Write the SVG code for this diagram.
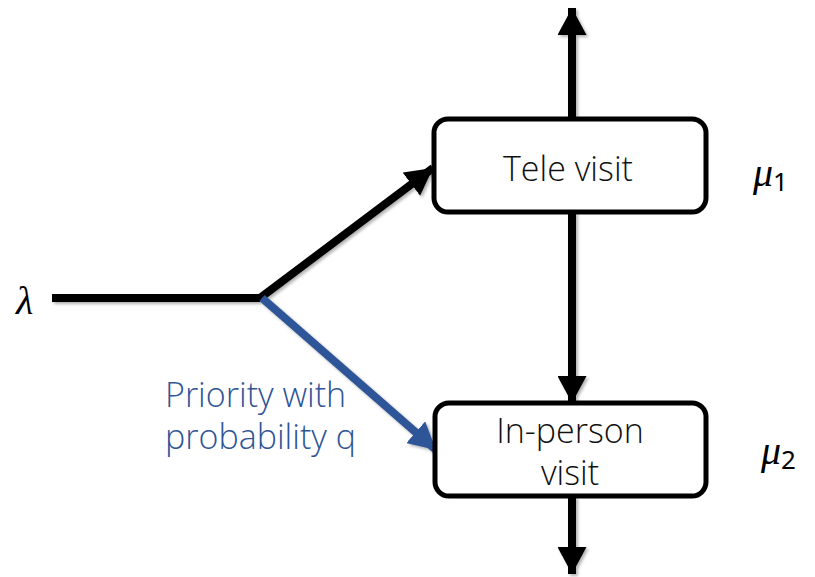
<svg xmlns="http://www.w3.org/2000/svg" width="815" height="577" viewBox="0 0 815 577">
<style>
.box{fill:#fff;stroke:#000;stroke-width:5}
.lbl{font-family:"Open Sans","Noto Sans",sans-serif;font-weight:300;font-size:34px;fill:#111;text-anchor:middle}
.ln{stroke:#000;stroke-width:8;fill:none}
.blue{stroke:#2F5597}
.math{font-family:"Liberation Serif","DejaVu Serif",serif;font-size:40px;fill:#000}
.sub{font-family:"Noto Sans",sans-serif;font-size:26px}
.blt{font-family:"Open Sans","Noto Sans",sans-serif;font-weight:300;font-size:34px;fill:#2F5597}
</style>
<defs>
<marker id="ah" markerUnits="userSpaceOnUse" markerWidth="28" markerHeight="29" refX="27" refY="14.5" orient="auto" viewBox="0 0 28 29">
<path d="M0,0 L27,14.5 L0,29 z" fill="#000"/>
</marker>
<marker id="ahb" markerUnits="userSpaceOnUse" markerWidth="28" markerHeight="29" refX="27" refY="14.5" orient="auto" viewBox="0 0 28 29">
<path d="M0,0 L27,14.5 L0,29 z" fill="#2F5597"/>
</marker>
<filter id="sh" x="-20%" y="-20%" width="140%" height="140%">
<feDropShadow dx="2" dy="2" stdDeviation="1.5" flood-color="#000" flood-opacity="0.3"/>
</filter>
</defs>
<g id="connectors" filter="url(#sh)">
<line class="ln" x1="52" y1="298" x2="262" y2="298"/>
<line class="ln" x1="260" y1="298" x2="433" y2="168" marker-end="url(#ah)"/>
<line class="ln blue" x1="262" y1="298" x2="436" y2="450" marker-end="url(#ahb)"/>
<line class="ln" x1="572" y1="120" x2="572" y2="8" marker-end="url(#ah)"/>
<line class="ln" x1="572" y1="212" x2="572" y2="403" marker-end="url(#ah)"/>
<line class="ln" x1="572" y1="496" x2="572" y2="574" marker-end="url(#ah)"/>
</g>
<g id="tele">
<rect class="box" x="434" y="119" width="272" height="93" rx="14"/>
<text class="lbl" x="568" y="181">Tele visit</text>
</g>
<g id="inperson">
<rect class="box" x="435" y="403" width="271" height="93" rx="14"/>
<text class="lbl" x="570" y="443">In-person</text>
<text class="lbl" x="570" y="485">visit</text>
</g>
<g id="lambda"><text class="math" x="16" y="314" font-style="italic">λ</text></g>
<g id="mu1"><text class="math" x="753" y="186"><tspan font-style="italic">μ</tspan><tspan class="sub" dy="5">1</tspan></text></g>
<g id="mu2"><text class="math" x="761" y="464"><tspan font-style="italic">μ</tspan><tspan class="sub" dy="5">2</tspan></text></g>
<g id="priority">
<text class="blt" x="165" y="407">Priority with</text>
<text class="blt" x="165" y="449">probability q</text>
</g>
</svg>
